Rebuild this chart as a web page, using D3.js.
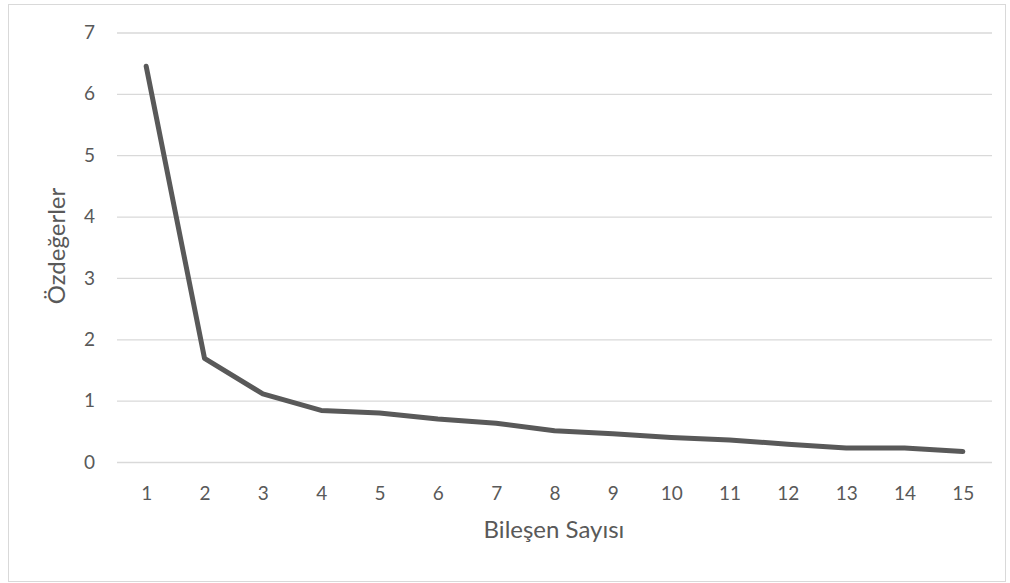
<!DOCTYPE html>
<html>
<head>
<meta charset="utf-8">
<script src="https://cdn.jsdelivr.net/npm/d3@7"></script>
<style>
  body { margin: 0; background: #fff; }
  text { font-family: Lato, "Open Sans", sans-serif; }
</style>
</head>
<body>
<div id="chart"></div>
<script>
// components and eigenvalues
const components = [1, 2, 3, 4, 5, 6, 7, 8, 9, 10, 11, 12, 13, 14, 15];
const eigenvalues = [6.45, 1.69, 1.11, 0.84, 0.80, 0.70, 0.63, 0.51, 0.46, 0.40, 0.36, 0.29, 0.23, 0.23, 0.17];
const yTicks = [0, 1, 2, 3, 4, 5, 6, 7];

const width = 1010;
const height = 583;
const margin = {top: 32.5, right: 18, bottom: 121, left: 117};

const svg = d3.select('#chart')
  .append('svg')
  .attr('width', width)
  .attr('height', height);

// chart frame
svg.append('rect')
  .attr('x', 8.5)
  .attr('y', 4.5)
  .attr('width', 997)
  .attr('height', 577)
  .attr('fill', '#fff')
  .attr('stroke', '#d9d9d9');

const x = d3.scalePoint()
  .domain(components)
  .range([margin.left, width - margin.right])
  .padding(0.5);

const y = d3.scaleLinear()
  .domain([0, 7])
  .range([height - margin.bottom, margin.top]);

// gridlines + y labels
const yAxis = svg.append('g')
  .attr('transform', `translate(${margin.left},0)`)
  .call(d3.axisLeft(y).tickValues(yTicks).tickFormat(d3.format('d'))
    .tickSize(-(width - margin.left - margin.right)).tickPadding(22));

yAxis.select('.domain').remove();
yAxis.selectAll('line').attr('stroke', '#d9d9d9').attr('stroke-width', 1.3);
yAxis.selectAll('text')
  .attr('fill', '#595959')
  .attr('font-size', '19px')
  .attr('font-family', 'Lato, sans-serif');

// x labels
const xAxis = svg.append('g')
  .attr('transform', `translate(0,${height - margin.bottom})`)
  .call(d3.axisBottom(x).tickSize(0).tickPadding(25));

xAxis.select('.domain').remove();
xAxis.selectAll('text')
  .attr('fill', '#595959')
  .attr('font-size', '19px')
  .attr('font-family', 'Lato, sans-serif');

// the line
const line = d3.line()
  .x((d, i) => x(components[i]))
  .y(d => y(d));

svg.append('path')
  .datum(eigenvalues)
  .attr('d', line)
  .attr('fill', 'none')
  .attr('stroke', '#595959')
  .attr('stroke-width', 5)
  .attr('stroke-linecap', 'round')
  .attr('stroke-linejoin', 'round');

// axis titles
svg.append('text')
  .attr('x', 554)
  .attr('y', 538)
  .attr('text-anchor', 'middle')
  .attr('fill', '#595959')
  .attr('font-size', '24px')
  .text('Bileşen Sayısı');

svg.append('text')
  .attr('transform', `translate(65,246) rotate(-90)`)
  .attr('text-anchor', 'middle')
  .attr('fill', '#595959')
  .attr('font-size', '24px')
  .text('Özdeğerler');
</script>
</body>
</html>
